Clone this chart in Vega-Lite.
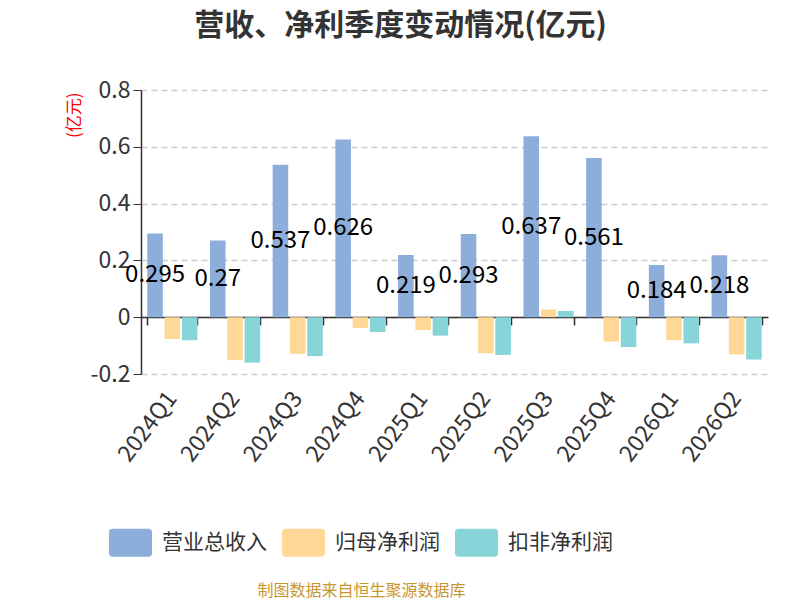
{
  "$schema": "https://vega.github.io/schema/vega-lite/v6.json",
  "autosize": {"type": "none"},
  "padding": {"left": 141, "top": 90, "right": 32, "bottom": 226},
  "width": 627,
  "height": 284,
  "title": {
    "text": "营收、净利季度变动情况(亿元)",
    "fontSize": 30,
    "fontWeight": "bold",
    "color": "#333333",
    "anchor": "middle",
    "dx": -54,
    "offset": 38
  },
  "data": {
    "values": [
      {"quarter": "2024Q1", "series": "营业总收入", "value": 0.295},
      {"quarter": "2024Q1", "series": "归母净利润", "value": -0.077},
      {"quarter": "2024Q1", "series": "扣非净利润", "value": -0.081},
      {"quarter": "2024Q2", "series": "营业总收入", "value": 0.27},
      {"quarter": "2024Q2", "series": "归母净利润", "value": -0.151},
      {"quarter": "2024Q2", "series": "扣非净利润", "value": -0.16},
      {"quarter": "2024Q3", "series": "营业总收入", "value": 0.537},
      {"quarter": "2024Q3", "series": "归母净利润", "value": -0.129},
      {"quarter": "2024Q3", "series": "扣非净利润", "value": -0.137},
      {"quarter": "2024Q4", "series": "营业总收入", "value": 0.626},
      {"quarter": "2024Q4", "series": "归母净利润", "value": -0.038},
      {"quarter": "2024Q4", "series": "扣非净利润", "value": -0.052},
      {"quarter": "2025Q1", "series": "营业总收入", "value": 0.219},
      {"quarter": "2025Q1", "series": "归母净利润", "value": -0.045},
      {"quarter": "2025Q1", "series": "扣非净利润", "value": -0.065},
      {"quarter": "2025Q2", "series": "营业总收入", "value": 0.293},
      {"quarter": "2025Q2", "series": "归母净利润", "value": -0.127},
      {"quarter": "2025Q2", "series": "扣非净利润", "value": -0.133},
      {"quarter": "2025Q3", "series": "营业总收入", "value": 0.637},
      {"quarter": "2025Q3", "series": "归母净利润", "value": 0.027},
      {"quarter": "2025Q3", "series": "扣非净利润", "value": 0.022},
      {"quarter": "2025Q4", "series": "营业总收入", "value": 0.561},
      {"quarter": "2025Q4", "series": "归母净利润", "value": -0.086},
      {"quarter": "2025Q4", "series": "扣非净利润", "value": -0.105},
      {"quarter": "2026Q1", "series": "营业总收入", "value": 0.184},
      {"quarter": "2026Q1", "series": "归母净利润", "value": -0.081},
      {"quarter": "2026Q1", "series": "扣非净利润", "value": -0.092},
      {"quarter": "2026Q2", "series": "营业总收入", "value": 0.218},
      {"quarter": "2026Q2", "series": "归母净利润", "value": -0.131},
      {"quarter": "2026Q2", "series": "扣非净利润", "value": -0.149}
    ]
  },
  "layer": [
    {
      "mark": {"type": "bar"},
      "encoding": {
        "x": {
          "field": "quarter",
          "type": "nominal",
          "sort": null,
          "scale": {"paddingInner": 0.2, "paddingOuter": 0.1},
          "axis": {
            "orient": "bottom",
            "labelAngle": -53,
            "labelAlign": "right",
            "labelBaseline": "middle",
            "labelFontSize": 23,
            "labelColor": "#333333",
            "labelPadding": 20,
            "domain": false,
            "ticks": false,
            "grid": false,
            "title": "制图数据来自恒生聚源数据库",
            "titleColor": "#C8962E",
            "titleFontSize": 16,
            "titleFontWeight": "normal",
            "titleX": 220,
            "titleY": 216,
            "titleBaseline": "middle"
          }
        },
        "xOffset": {
          "field": "series",
          "type": "nominal",
          "scale": {"domain": ["营业总收入", "归母净利润", "扣非净利润"], "paddingInner": 0.1}
        },
        "y": {
          "field": "value",
          "type": "quantitative",
          "scale": {"domain": [-0.2, 0.8], "nice": false, "zero": false},
          "axis": {
            "values": [-0.2, 0, 0.2, 0.4, 0.6, 0.8],
            "labelExpr": "'' + round(datum.value * 10) / 10",
            "labelFontSize": 23,
            "labelColor": "#333333",
            "labelPadding": 3,
            "domainColor": "#333333",
            "tickColor": "#333333",
            "tickSize": 8,
            "grid": true,
            "gridColor": "#cccccc",
            "gridDash": [6, 4],
            "gridWidth": 1.5,
            "title": "(亿元)",
            "titleColor": "#ff0000",
            "titleFontSize": 17,
            "titleFontWeight": "normal",
            "titleAngle": -90,
            "titleAlign": "right",
            "titleBaseline": "middle",
            "titleX": -67,
            "titleY": 2
          }
        },
        "color": {
          "field": "series",
          "type": "nominal",
          "scale": {
            "domain": ["营业总收入", "归母净利润", "扣非净利润"],
            "range": ["#8DAEDB", "#FFD898", "#87D5D8"]
          },
          "legend": {
            "orient": "none",
            "direction": "horizontal",
            "legendX": -32,
            "legendY": 431,
            "title": null,
            "symbolType": "M-0.85,-0.65H0.85A0.15,0.15 0 0 1 1,-0.5V0.5A0.15,0.15 0 0 1 0.85,0.65H-0.85A0.15,0.15 0 0 1 -1,0.5V-0.5A0.15,0.15 0 0 1 -0.85,-0.65Z",
            "symbolSize": 1849,
            "symbolStrokeWidth": 0,
            "symbolOpacity": 1,
            "labelFontSize": 21,
            "labelColor": "#333333",
            "labelOffset": 10,
            "columnPadding": 15
          }
        }
      }
    },
    {
      "transform": [{"filter": "datum.series == '营业总收入'"}],
      "mark": {"type": "text", "fontSize": 24, "color": "#000000", "baseline": "middle", "align": "center"},
      "encoding": {
        "x": {
          "field": "quarter",
          "type": "nominal",
          "sort": null,
          "axis": {
            "orient": "bottom",
            "offset": -57,
            "labels": false,
            "domain": true,
            "domainColor": "#333333",
            "domainWidth": 1.5,
            "ticks": true,
            "tickBand": "extent",
            "tickSize": 8,
            "tickColor": "#333333",
            "tickWidth": 1.5,
            "grid": false,
            "title": null
          }
        },
        "xOffset": {
          "field": "series",
          "type": "nominal",
          "scale": {"domain": ["营业总收入", "归母净利润", "扣非净利润"]}
        },
        "y": {
          "field": "value",
          "type": "quantitative",
          "scale": {"domain": [-0.4, 1.6], "nice": false, "zero": false},
          "axis": null
        },
        "text": {"field": "value", "type": "quantitative", "format": ".3~f"}
      }
    }
  ],
  "resolve": {
    "scale": {"y": "independent"},
    "axis": {"x": "independent", "y": "independent"}
  },
  "config": {
    "font": "Noto Sans CJK SC",
    "view": {"stroke": null},
    "axis": {"domainWidth": 1.5}
  }
}
